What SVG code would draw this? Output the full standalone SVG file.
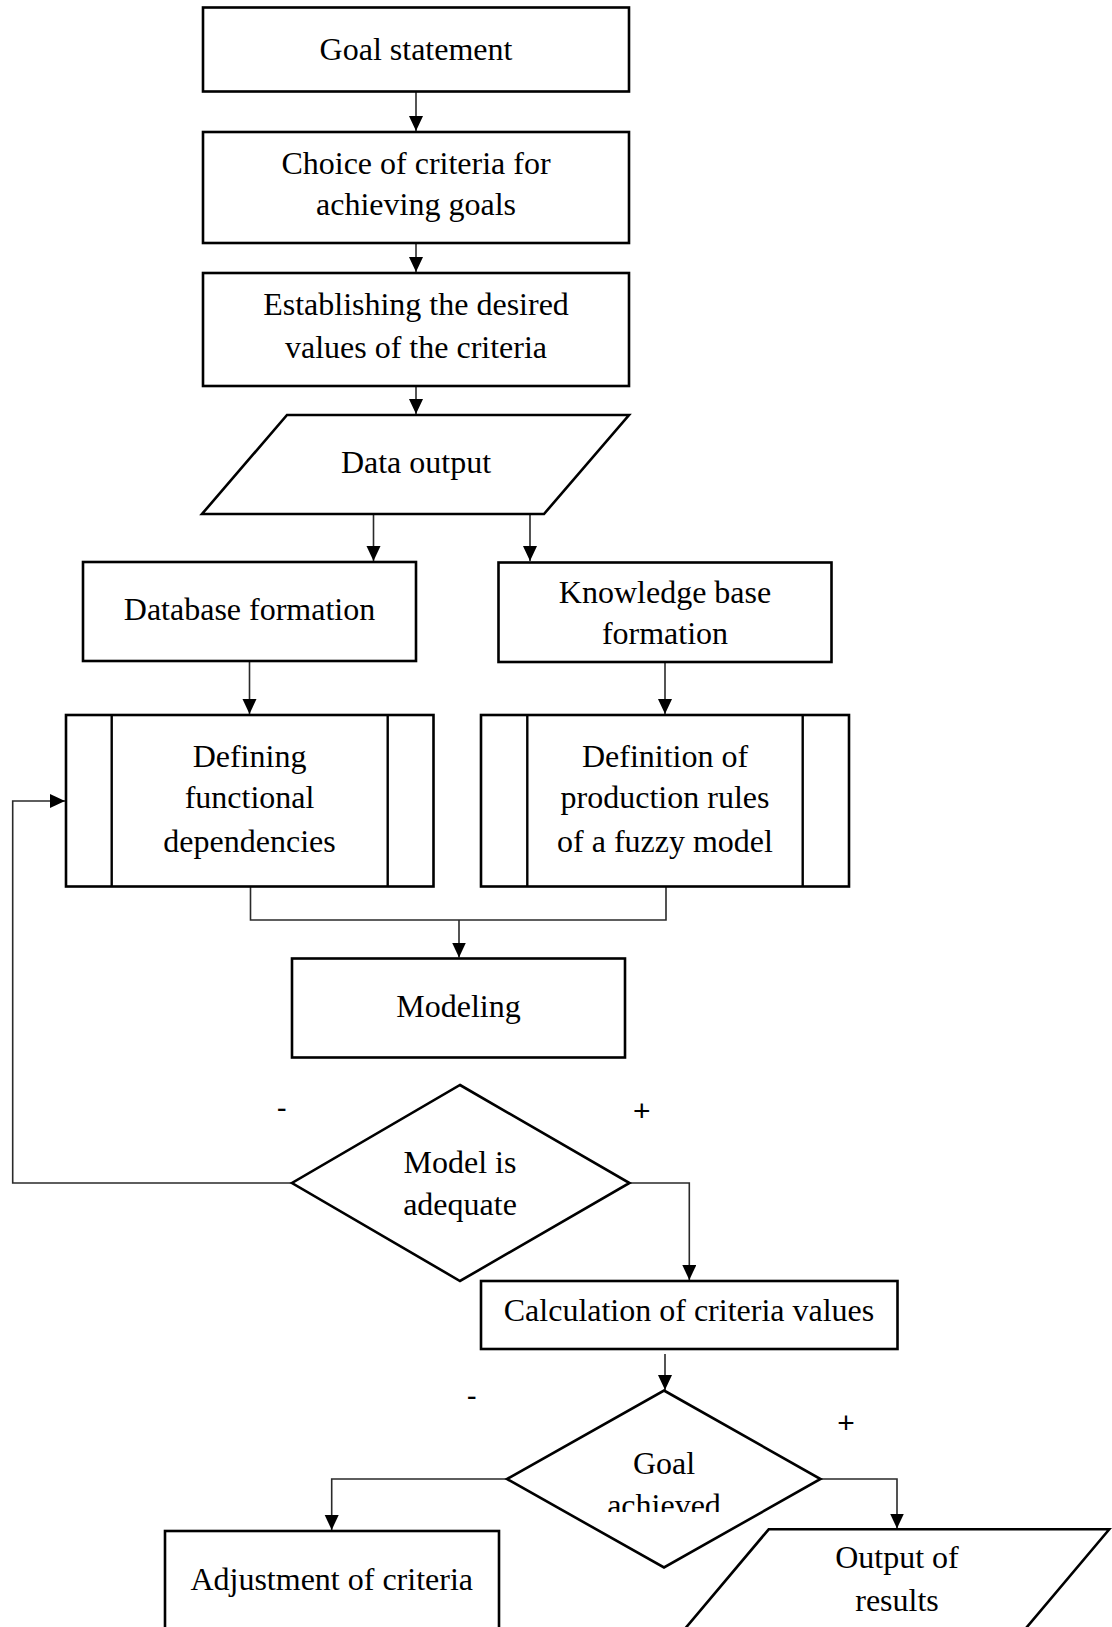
<svg xmlns="http://www.w3.org/2000/svg" width="1112" height="1627" viewBox="0 0 1112 1627">
  <style>
    .box { fill: #ffffff; stroke: #000000; stroke-width: 2.6; }
    .inner { fill: none; stroke: #000000; stroke-width: 2.4; }
    .conn { fill: none; stroke: #2a2a2a; stroke-width: 1.6; }
    .arr { marker-end: url(#ah); }
    .t { font-family: "Liberation Serif", "Times New Roman", serif; font-size: 32px; fill: #000000; text-anchor: middle; }
    .sign { font-family: "Liberation Sans", Arial, sans-serif; font-size: 30px; fill: #000000; text-anchor: middle; }
  </style>
  <defs>
    <marker id="ah" markerUnits="userSpaceOnUse" markerWidth="16" markerHeight="15" refX="15" refY="7" orient="auto">
      <path d="M0,0 L15,7 L0,14 Z" fill="#000000"/>
    </marker>
    <clipPath id="clipAch">
      <rect x="550" y="1480" width="230" height="32"/>
    </clipPath>
  </defs>
  <rect x="0" y="0" width="1112" height="1627" fill="#ffffff"/>

  <g id="connectors">
    <path class="conn arr" d="M416,91.5 V131"/>
    <path class="conn arr" d="M416,243 V272"/>
    <path class="conn arr" d="M416,386 V414"/>
    <path class="conn arr" d="M373.5,514 V561"/>
    <path class="conn arr" d="M530,514 V561"/>
    <path class="conn arr" d="M249.5,661 V714"/>
    <path class="conn arr" d="M665,662 V714"/>
    <path class="conn" d="M250.5,886.5 V920 H666 V886.5"/>
    <path class="conn arr" d="M459,920 V957.5"/>
    <path class="conn arr" d="M629.5,1183 H689.3 V1280"/>
    <path class="conn arr" d="M292,1183 H12.7 V801 H65"/>
    <path class="conn arr" d="M665,1354 V1390"/>
    <path class="conn arr" d="M507,1479 H331.7 V1530"/>
    <path class="conn arr" d="M820.5,1479 H897 V1528.5"/>
  </g>

  <g id="goal-statement">
    <rect class="box" x="203" y="7.5" width="426" height="84"/>
    <text class="t" x="416" y="60">Goal statement</text>
  </g>
  <g id="choice-criteria">
    <rect class="box" x="203" y="132" width="426" height="111"/>
    <text class="t" x="416" y="174">Choice of criteria for</text>
    <text class="t" x="416" y="215">achieving goals</text>
  </g>
  <g id="establishing">
    <rect class="box" x="203" y="273" width="426" height="113"/>
    <text class="t" x="416" y="315">Establishing the desired</text>
    <text class="t" x="416" y="358">values of the criteria</text>
  </g>
  <g id="data-output">
    <polygon class="box" points="287,415 629,415 544,514 202,514"/>
    <text class="t" x="416" y="473">Data output</text>
  </g>
  <g id="database-formation">
    <rect class="box" x="83" y="562" width="333" height="99"/>
    <text class="t" x="249.5" y="620">Database formation</text>
  </g>
  <g id="knowledge-base-formation">
    <rect class="box" x="498.5" y="562.5" width="333" height="99.5"/>
    <text class="t" x="665" y="602.7">Knowledge base</text>
    <text class="t" x="665" y="644.3">formation</text>
  </g>
  <g id="defining-functional-dependencies">
    <rect class="box" x="66" y="715" width="367.5" height="171.5"/>
    <line class="inner" x1="111.7" y1="715" x2="111.7" y2="886.5"/>
    <line class="inner" x1="387.7" y1="715" x2="387.7" y2="886.5"/>
    <text class="t" x="249.5" y="766.7">Defining</text>
    <text class="t" x="249.5" y="808.3">functional</text>
    <text class="t" x="249.5" y="851.7">dependencies</text>
  </g>
  <g id="definition-production-rules">
    <rect class="box" x="481" y="715" width="368" height="171.5"/>
    <line class="inner" x1="527.3" y1="715" x2="527.3" y2="886.5"/>
    <line class="inner" x1="802.7" y1="715" x2="802.7" y2="886.5"/>
    <text class="t" x="665" y="766.7">Definition of</text>
    <text class="t" x="665" y="808.3">production rules</text>
    <text class="t" x="665" y="851.7">of a fuzzy model</text>
  </g>
  <g id="modeling">
    <rect class="box" x="292" y="958.5" width="333" height="99"/>
    <text class="t" x="458.5" y="1016.7">Modeling</text>
  </g>
  <g id="model-adequate">
    <polygon class="box" points="460,1085 629.5,1183 460,1281 292,1183"/>
    <text class="t" x="460" y="1173.3">Model is</text>
    <text class="t" x="460" y="1215">adequate</text>
  </g>
  <g id="calculation-criteria-values">
    <rect class="box" x="481" y="1281" width="416.5" height="68"/>
    <text class="t" x="689" y="1320.7">Calculation of criteria values</text>
  </g>
  <g id="goal-achieved">
    <polygon class="box" points="664,1390.5 820.5,1479 664,1567.5 507,1479"/>
    <text class="t" x="664" y="1474.3">Goal</text>
    <text class="t" x="664" y="1516" clip-path="url(#clipAch)">achieved</text>
  </g>
  <g id="adjustment-criteria">
    <rect class="box" x="165" y="1531" width="334" height="120"/>
    <text class="t" x="331.7" y="1590">Adjustment of criteria</text>
  </g>
  <g id="output-results">
    <polygon class="box" points="768.7,1529.3 1109.3,1529.3 1016,1640 675.5,1640"/>
    <text class="t" x="897" y="1568.3">Output of</text>
    <text class="t" x="897" y="1611">results</text>
  </g>

  <g id="labels">
    <text class="sign" x="281.7" y="1117.5">-</text>
    <text class="sign" x="641.7" y="1120.5">+</text>
    <text class="sign" x="471.7" y="1405.5">-</text>
    <text class="sign" x="846" y="1433">+</text>
  </g>
</svg>
